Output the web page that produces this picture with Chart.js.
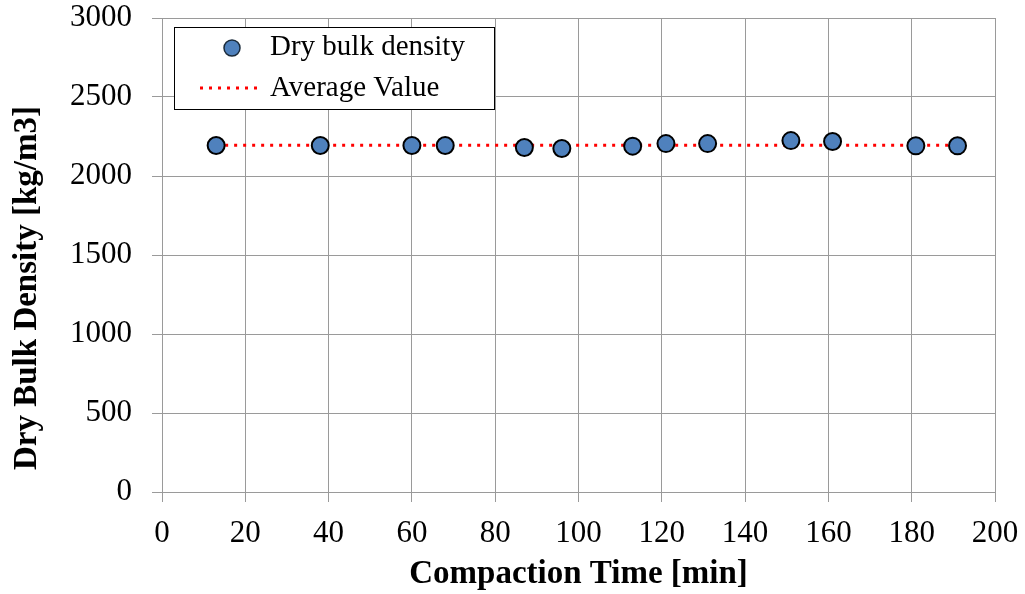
<!DOCTYPE html>
<html>
<head>
<meta charset="utf-8">
<script src="https://cdn.jsdelivr.net/npm/chart.js@4.4.1/dist/chart.umd.min.js"></script>
<style>
  html, body { margin: 0; padding: 0; background: #fff; }
  #wrap { width: 1025px; height: 594px; }
</style>
</head>
<body>
<div id="wrap"><canvas id="myChart" width="1025" height="594"></canvas></div>
<script>
const times = [13, 38, 60, 68, 87, 96, 113, 121, 131, 151, 161, 181, 191];
const density = [2193, 2193, 2193, 2193, 2180, 2174, 2189, 2205, 2205, 2224, 2218, 2191, 2191];
const avgRange = [13, 191];
const avgValue = 2195;

const serif = "'Liberation Serif', 'Times New Roman', serif";
const gridColor = '#9a9a9a';

// legend box drawn inside the plot, like the original
const boxLegend = {
    id: 'boxLegend',
    afterDraw(chart) {
        const ctx = chart.ctx;
        const ds = chart.data.datasets;
        ctx.save();
        ctx.fillStyle = '#fff';
        ctx.fillRect(174.5, 27.5, 320, 82);
        ctx.strokeStyle = '#000';
        ctx.lineWidth = 1;
        ctx.strokeRect(174.5, 27.5, 320, 82);

        // marker entry
        ctx.beginPath();
        ctx.arc(232, 48, 8, 0, Math.PI * 2);
        ctx.fillStyle = ds[0].backgroundColor;
        ctx.fill();
        ctx.lineWidth = 1.5;
        ctx.strokeStyle = '#1a2a3a';
        ctx.stroke();

        // dotted line entry
        ctx.beginPath();
        ctx.setLineDash(ds[1].borderDash);
        ctx.lineWidth = ds[1].borderWidth;
        ctx.strokeStyle = ds[1].borderColor;
        ctx.moveTo(200, 88);
        ctx.lineTo(260, 88);
        ctx.stroke();
        ctx.setLineDash([]);

        ctx.fillStyle = '#000';
        ctx.font = '29px ' + serif;
        ctx.textBaseline = 'middle';
        ctx.fillText(ds[0].label, 270, 47);
        ctx.fillText(ds[1].label, 270, 88);
        ctx.restore();
    }
};

const data = {
    datasets: [{
        type: 'scatter',
        label: 'Dry bulk density',
        data: times.map((t, i) => ({x: t, y: density[i]})),
        backgroundColor: '#4F81BD',
        borderColor: '#000',
        borderWidth: 2,
        pointRadius: 8.5,
        pointHoverRadius: 8.5
    }, {
        type: 'line',
        label: 'Average Value',
        data: avgRange.map(t => ({x: t, y: avgValue})),
        borderColor: '#ff0000',
        borderWidth: 3,
        borderDash: [3, 6],
        pointRadius: 0,
        fill: false
    }]
};

const config = {
    type: 'scatter',
    data: data,
    plugins: [boxLegend],
    options: {
        responsive: false,
        animation: false,
        devicePixelRatio: 1,
        layout: { padding: { left: 0, right: 30, top: 18, bottom: 0 } },
        plugins: {
            legend: { display: false },
            tooltip: { enabled: false }
        },
        scales: {
            x: {
                type: 'linear',
                min: 0,
                max: 200,
                afterFit: s => { s.height = 102; s.paddingLeft = 0; s.paddingRight = 0; },
                ticks: { stepSize: 20, padding: 13, color: '#000', font: { family: serif, size: 31 } },
                grid: { color: gridColor, tickColor: gridColor, tickLength: 10 },
                border: { color: gridColor },
                title: {
                    display: true,
                    text: 'Compaction Time [min]',
                    color: '#000',
                    padding: { top: 0, bottom: 0 },
                    font: { family: serif, size: 33, weight: 'bold' }
                }
            },
            y: {
                min: 0,
                max: 3000,
                afterFit: s => { s.width = 162; s.paddingTop = 0; s.paddingBottom = 0; },
                ticks: {
                    stepSize: 500,
                    padding: 20,
                    color: '#000',
                    font: { family: serif, size: 31 },
                    callback: v => String(v)
                },
                grid: { color: gridColor, tickColor: gridColor, tickLength: 10 },
                border: { color: gridColor },
                title: {
                    display: true,
                    text: 'Dry Bulk Density [kg/m3]        ',
                    color: '#000',
                    padding: { top: 8, bottom: 0 },
                    font: { family: serif, size: 33, weight: 'bold' }
                }
            }
        }
    }
};

var ctx = document.getElementById("myChart").getContext('2d');
var myChart = new Chart(ctx, config);
</script>
</body>
</html>
